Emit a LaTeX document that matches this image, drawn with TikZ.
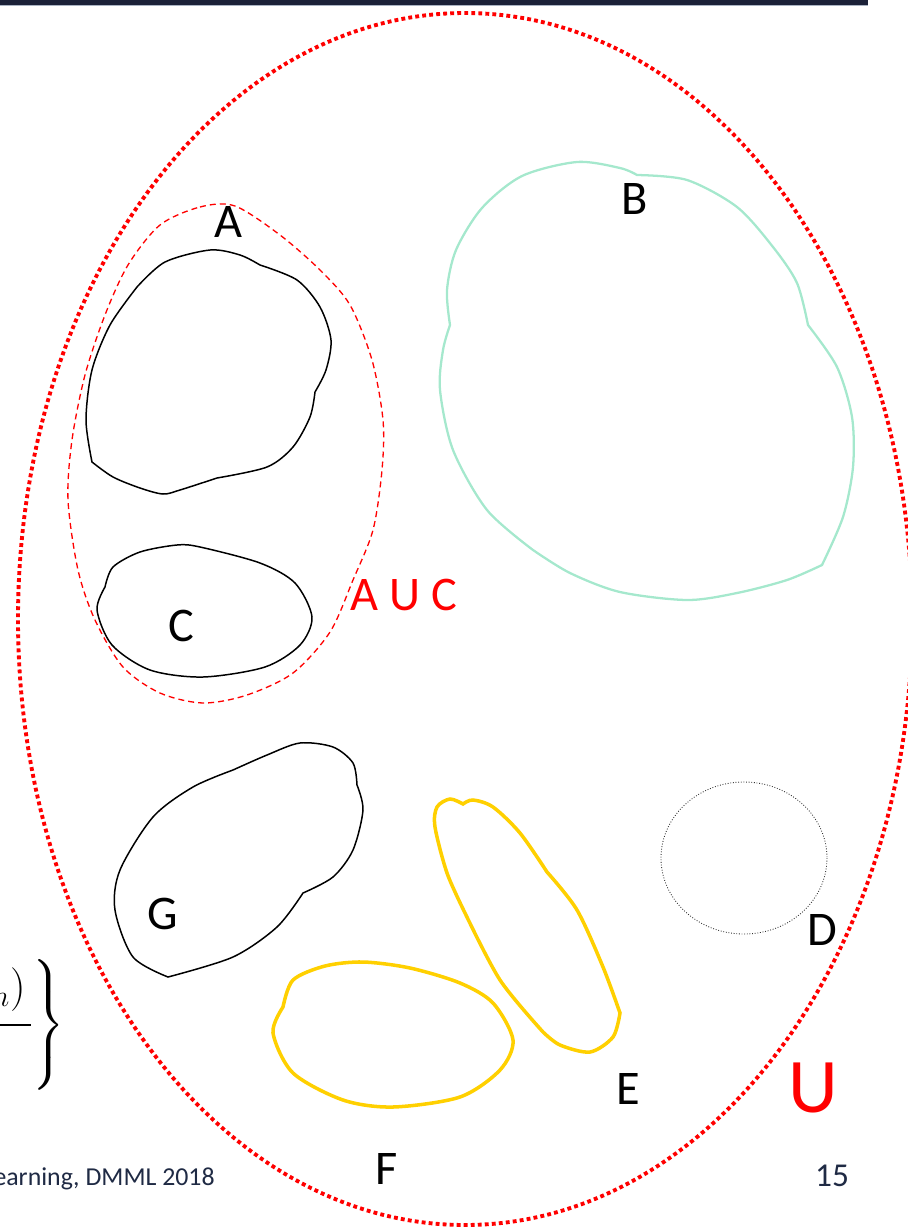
\documentclass[tikz,border=0pt]{standalone}
\usepackage[no-math]{fontspec}
\setmainfont{Carlito}
\usepackage{amsmath}
\usetikzlibrary{positioning}
\definecolor{SetRed}{RGB}{255,0,0}
\definecolor{MintB}{RGB}{165,232,205}
\definecolor{GoldE}{RGB}{255,208,0}
\definecolor{SlideNavy}{RGB}{27,33,56}
\definecolor{BarLine}{RGB}{170,180,195}
\definecolor{FootNavy}{RGB}{31,42,68}
\tikzset{
  lbl/.style={inner sep=0pt,font=\fontsize{27.5}{33}\selectfont},
  redlbl/.style={lbl,text=SetRed},
  foot/.style={inner sep=0pt,text=FootNavy,font=\fontsize{19}{23}\selectfont},
  blob/.style={draw=black,line width=0.85pt},
  mint/.style={draw=MintB,line width=1.3pt},
  gold/.style={draw=GoldE,line width=2pt},
  univ/.style={draw=SetRed,line width=2.2pt,dash pattern=on 2.2pt off 1.8pt},
  unionac/.style={draw=SetRed,line width=0.75pt,dash pattern=on 3.4pt off 2.3pt},
  dset/.style={draw=black!80,line width=0.5pt,densely dotted},
}

\begin{document}
\begin{tikzpicture}[x=0.02cm,y=-0.02cm]
\useasboundingbox (0,0) rectangle (907,1228);
% slide header bar
\fill[SlideNavy] (0,0) rectangle (868,4.5);
\fill[BarLine] (0,4.5) rectangle (868,6);
% universe
\draw[univ] (465,619) ellipse [x radius=447, y radius=606];
% A
\draw[blob] plot[smooth] coordinates {(137,287) (165,262) (210,250) (240,255) (260,265)}
  -- plot[smooth] coordinates {(260,265) (297,280) (320,307) (331,340) (326,370) (315,392)}
  -- plot[smooth] coordinates {(315,392) (310,417) (293,447) (267,467) (217,478)}
  -- plot[smooth] coordinates {(217,478) (180,490) (163,494) (140,488) (113,477) (92,462)}
  -- plot[smooth] coordinates {(92,462) (86,420) (92,370) (110,325) (137,287)} -- cycle;
% C
\draw[blob] plot[smooth] coordinates {(105,587) (113,567) (140,552) (177,545) (200,547) (260,563)
  (295,583) (312,617) (300,645) (265,667) (203,677) (150,670) (112,645) (97,610) (105,587)} -- cycle;
% A U C
\draw[unionac] plot[smooth cycle] coordinates {(160,225) (200,207) (235,206) (280,235) (320,270)
  (350,305) (372,360) (383,420) (382,470) (373,530) (353,580) (330,632) (293,673) (247,695)
  (203,703) (160,693) (123,667) (95,620) (78,570) (68,500) (72,440) (85,375) (105,315) (128,265)};
% B
\draw[mint] plot[smooth] coordinates {(450,325) (447,290) (456,250) (482,208) (522,176) (577,162) (620,168) (637,175)}
  -- plot[smooth] coordinates {(637,175) (687,180) (737,207) (773,247) (797,283) (808,325)}
  -- plot[smooth] coordinates {(808,325) (837,367) (852,417) (853,467) (843,517) (822,565)}
  -- plot[smooth] coordinates {(822,565) (787,580) (737,593) (687,600) (620,592) (570,573) (533,550)}
  -- plot[smooth] coordinates {(533,550) (487,510) (453,450) (440,390) (443,350) (450,325)} -- cycle;
% G
\draw[blob] plot[smooth] coordinates {(233,770) (267,755) (300,743) (333,747) (353,763) (357,785)}
  -- plot[smooth] coordinates {(357,785) (363,810) (353,850) (333,877) (303,893)}
  -- plot[smooth] coordinates {(303,893) (277,927) (233,957) (168,977)}
  -- plot[smooth] coordinates {(168,977) (133,957) (115,910) (120,870) (153,817) (193,787) (233,770)} -- cycle;
% E
\draw[gold] plot[smooth] coordinates {(465,913) (447,873) (435,827) (437,807) (450,799) (463,804)}
  -- plot[smooth] coordinates {(463,804) (473,800) (493,807) (520,833) (547,872)}
  -- plot[smooth] coordinates {(547,872) (577,910) (603,967) (620,1013)}
  -- plot[smooth] coordinates {(620,1013) (613,1037) (590,1052) (560,1045) (543,1032)}
  -- plot[smooth] coordinates {(543,1032) (500,980) (465,913)} -- cycle;
% F
\draw[gold] plot[smooth] coordinates {(283,1007) (293,980) (325,966) (363,962) (410,968) (460,983)
  (493,1003) (513,1040) (500,1070) (460,1097) (393,1107) (343,1100) (293,1073) (273,1033) (283,1007)} -- cycle;
% D
\draw[dset] (744,858) ellipse [x radius=83, y radius=76];
% labels
\node[lbl] (labA) at (228,222) {A};
\node[lbl] (labB) at (635,199) {B};
\node[lbl] (labC) at (181,626) {C};
\node[redlbl] (labAC) at (404,595) {A U C};
\node[lbl] (labG) at (163,914) {G};
\node[lbl] (labD) at (822,930) {D};
\node[lbl] (labE) at (628,1089) {E};
\node[lbl] (labF) at (387,1169) {F};
\node[redlbl,font=\fontsize{44}{50}\selectfont] (labU) at (813,1088) {U};
% cut-off formula on the left
\node[inner sep=0pt,anchor=base east,font=\fontsize{26}{30}\selectfont] (frac) at (26,1000) {$x_n)$};
\draw[line width=0.85pt] (0,1025) -- (31,1025);
\node[inner sep=0pt,anchor=west,font=\fontsize{20}{24}\selectfont] (brace) at (30,1025)
  {$\left.\vcenter{\hbox{\rule{0pt}{78pt}}}\right\}$};
% footer
\node[foot,font=\fontsize{14.7}{18}\selectfont,anchor=base east] (footL) at (215,1185) {earning, DMML 2018};
\node[foot,anchor=base] (page) at (832,1186) {15};
\end{tikzpicture}
\end{document}
